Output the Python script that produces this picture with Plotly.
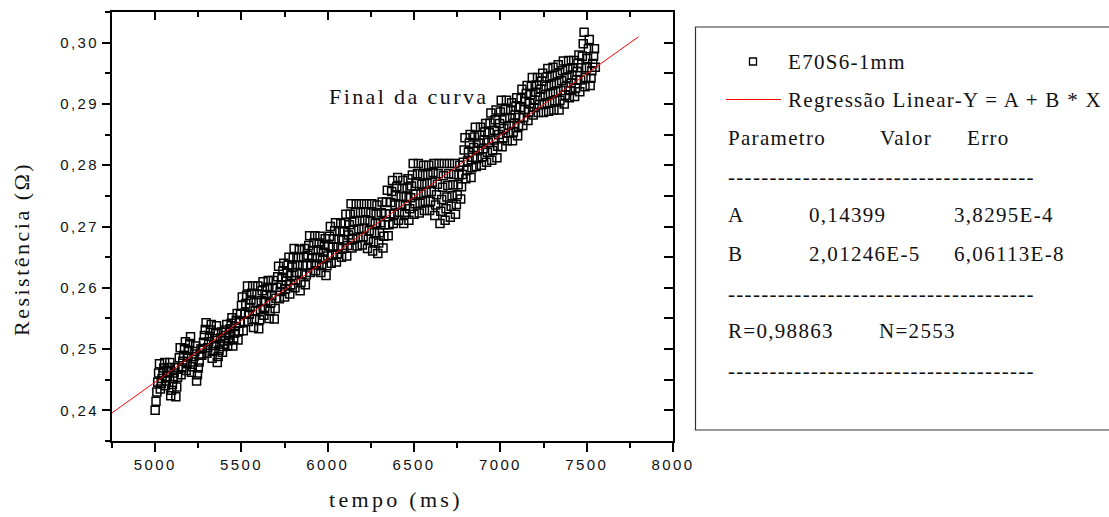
import plotly.graph_objects as go

# ---------------- data ----------------
tempo_ms = [
    5000, 5005, 5010, 5015, 5020, 5025, 5030, 5035, 5040, 5045, 5050, 5055, 5060, 5065, 5070, 5075, 5080, 5085, 5090, 5095,
    5100, 5105, 5110, 5115, 5120, 5125, 5130, 5135, 5140, 5145, 5150, 5155, 5160, 5165, 5170, 5175, 5180, 5185, 5190, 5195,
    5200, 5205, 5210, 5215, 5220, 5225, 5230, 5235, 5240, 5245, 5250, 5255, 5260, 5265, 5270, 5275, 5280, 5285, 5290, 5295,
    5300, 5305, 5310, 5315, 5320, 5325, 5330, 5335, 5340, 5345, 5350, 5355, 5360, 5365, 5370, 5375, 5380, 5385, 5390, 5395,
    5400, 5405, 5410, 5415, 5420, 5425, 5430, 5435, 5440, 5445, 5450, 5455, 5460, 5465, 5470, 5475, 5480, 5485, 5490, 5495,
    5500, 5505, 5510, 5515, 5520, 5525, 5530, 5535, 5540, 5545, 5550, 5555, 5560, 5565, 5570, 5575, 5580, 5585, 5590, 5595,
    5600, 5605, 5610, 5615, 5620, 5625, 5630, 5635, 5640, 5645, 5650, 5655, 5660, 5665, 5670, 5675, 5680, 5685, 5690, 5695,
    5700, 5705, 5710, 5715, 5720, 5725, 5730, 5735, 5740, 5745, 5750, 5755, 5760, 5765, 5770, 5775, 5780, 5785, 5790, 5795,
    5800, 5805, 5810, 5815, 5820, 5825, 5830, 5835, 5840, 5845, 5850, 5855, 5860, 5865, 5870, 5875, 5880, 5885, 5890, 5895,
    5900, 5905, 5910, 5915, 5920, 5925, 5930, 5935, 5940, 5945, 5950, 5955, 5960, 5965, 5970, 5975, 5980, 5985, 5990, 5995,
    6000, 6005, 6010, 6015, 6020, 6025, 6030, 6035, 6040, 6045, 6050, 6055, 6060, 6065, 6070, 6075, 6080, 6085, 6090, 6095,
    6100, 6105, 6110, 6115, 6120, 6125, 6130, 6135, 6140, 6145, 6150, 6155, 6160, 6165, 6170, 6175, 6180, 6185, 6190, 6195,
    6200, 6205, 6210, 6215, 6220, 6225, 6230, 6235, 6240, 6245, 6250, 6255, 6260, 6265, 6270, 6275, 6280, 6285, 6290, 6295,
    6300, 6305, 6310, 6315, 6320, 6325, 6330, 6335, 6340, 6345, 6350, 6355, 6360, 6365, 6370, 6375, 6380, 6385, 6390, 6395,
    6400, 6405, 6410, 6415, 6420, 6425, 6430, 6435, 6440, 6445, 6450, 6455, 6460, 6465, 6470, 6475, 6480, 6485, 6490, 6495,
    6500, 6505, 6510, 6515, 6520, 6525, 6530, 6535, 6540, 6545, 6550, 6555, 6560, 6565, 6570, 6575, 6580, 6585, 6590, 6595,
    6600, 6605, 6610, 6615, 6620, 6625, 6630, 6635, 6640, 6645, 6650, 6655, 6660, 6665, 6670, 6675, 6680, 6685, 6690, 6695,
    6700, 6705, 6710, 6715, 6720, 6725, 6730, 6735, 6740, 6745, 6750, 6755, 6760, 6765, 6770, 6775, 6780, 6785, 6790, 6795,
    6800, 6805, 6810, 6815, 6820, 6825, 6830, 6835, 6840, 6845, 6850, 6855, 6860, 6865, 6870, 6875, 6880, 6885, 6890, 6895,
    6900, 6905, 6910, 6915, 6920, 6925, 6930, 6935, 6940, 6945, 6950, 6955, 6960, 6965, 6970, 6975, 6980, 6985, 6990, 6995,
    7000, 7005, 7010, 7015, 7020, 7025, 7030, 7035, 7040, 7045, 7050, 7055, 7060, 7065, 7070, 7075, 7080, 7085, 7090, 7095,
    7100, 7105, 7110, 7115, 7120, 7125, 7130, 7135, 7140, 7145, 7150, 7155, 7160, 7165, 7170, 7175, 7180, 7185, 7190, 7195,
    7200, 7205, 7210, 7215, 7220, 7225, 7230, 7235, 7240, 7245, 7250, 7255, 7260, 7265, 7270, 7275, 7280, 7285, 7290, 7295,
    7300, 7305, 7310, 7315, 7320, 7325, 7330, 7335, 7340, 7345, 7350, 7355, 7360, 7365, 7370, 7375, 7380, 7385, 7390, 7395,
    7400, 7405, 7410, 7415, 7420, 7425, 7430, 7435, 7440, 7445, 7450, 7455, 7460, 7465, 7470, 7475, 7480, 7485, 7490, 7495,
    7500, 7505, 7510, 7515, 7520, 7525, 7530, 7535, 7540, 7545, 7550,
]

resistencia = [
    .2400, .2415, .2430, .2446, .2461, .2476, .2435, .2444, .2452, .2461, .2469, .2478,
    .2440, .2448, .2455, .2463, .2470, .2478, .2424, .2433, .2442, .2452, .2461, .2470,
    .2422, .2438, .2454, .2470, .2486, .2502, .2458, .2469, .2480, .2490, .2501, .2512,
    .2465, .2476, .2487, .2498, .2509, .2520, .2462, .2471, .2479, .2488, .2496, .2505,
    .2448, .2458, .2469, .2479, .2490, .2500, .2490, .2501, .2511, .2522, .2532, .2543,
    .2493, .2502, .2512, .2521, .2531, .2540, .2485, .2496, .2506, .2517, .2527, .2538,
    .2478, .2488, .2498, .2508, .2518, .2528, .2495, .2504, .2513, .2522, .2531, .2540,
    .2505, .2514, .2523, .2533, .2542, .2551, .2505, .2516, .2526, .2537, .2547, .2558,
    .2515, .2529, .2543, .2557, .2571, .2585, .2530, .2545, .2559, .2574, .2588, .2603,
    .2545, .2557, .2568, .2580, .2591, .2603, .2535, .2549, .2562, .2576, .2589, .2603,
    .2533, .2548, .2564, .2579, .2595, .2610, .2555, .2566, .2578, .2589, .2601, .2612,
    .2550, .2562, .2575, .2587, .2600, .2612, .2549, .2566, .2583, .2601, .2618, .2635,
    .2582, .2594, .2605, .2617, .2628, .2640, .2585, .2598, .2611, .2624, .2637, .2650,
    .2590, .2605, .2620, .2634, .2649, .2664, .2600, .2612, .2625, .2637, .2650, .2662,
    .2595, .2609, .2623, .2636, .2650, .2664, .2605, .2621, .2637, .2653, .2669, .2685,
    .2625, .2637, .2649, .2661, .2673, .2685, .2628, .2639, .2650, .2662, .2673, .2684,
    .2625, .2636, .2647, .2658, .2669, .2680, .2620, .2636, .2652, .2668, .2684, .2700,
    .2640, .2653, .2666, .2680, .2693, .2706, .2642, .2655, .2667, .2680, .2692, .2705,
    .2650, .2664, .2678, .2692, .2706, .2720, .2652, .2669, .2686, .2703, .2720, .2737,
    .2665, .2679, .2694, .2708, .2723, .2737, .2668, .2682, .2696, .2709, .2723, .2737,
    .2670, .2683, .2697, .2710, .2724, .2737, .2664, .2679, .2693, .2708, .2722, .2737,
    .2660, .2675, .2690, .2705, .2720, .2735, .2656, .2673, .2690, .2706, .2723, .2740,
    .2665, .2684, .2703, .2721, .2740, .2759, .2685, .2703, .2721, .2739, .2757, .2775,
    .2705, .2720, .2735, .2750, .2765, .2780, .2710, .2723, .2736, .2749, .2762, .2775,
    .2705, .2720, .2734, .2749, .2763, .2778, .2710, .2729, .2747, .2766, .2784, .2803,
    .2720, .2737, .2753, .2770, .2786, .2803, .2722, .2738, .2753, .2769, .2784, .2800,
    .2726, .2741, .2756, .2770, .2785, .2800, .2726, .2741, .2757, .2772, .2788, .2803,
    .2718, .2735, .2752, .2769, .2786, .2803, .2705, .2725, .2744, .2764, .2783, .2803,
    .2710, .2729, .2748, .2767, .2786, .2803, .2715, .2733, .2750, .2768, .2785, .2803,
    .2720, .2736, .2752, .2768, .2784, .2800, .2745, .2765, .2785, .2805, .2825, .2845,
    .2778, .2792, .2807, .2821, .2836, .2850, .2780, .2796, .2813, .2829, .2846, .2862,
    .2798, .2811, .2824, .2836, .2849, .2862, .2800, .2814, .2827, .2841, .2854, .2868,
    .2805, .2821, .2837, .2853, .2869, .2885, .2808, .2824, .2841, .2857, .2874, .2890,
    .2812, .2831, .2850, .2868, .2887, .2906, .2830, .2845, .2860, .2876, .2891, .2906,
    .2840, .2852, .2865, .2877, .2890, .2902, .2840, .2854, .2868, .2882, .2896, .2910,
    .2848, .2863, .2878, .2894, .2909, .2924, .2865, .2878, .2891, .2904, .2917, .2930,
    .2873, .2887, .2901, .2915, .2929, .2943, .2882, .2894, .2906, .2919, .2931, .2943,
    .2886, .2899, .2912, .2924, .2937, .2950, .2886, .2900, .2915, .2929, .2944, .2958,
    .2888, .2902, .2917, .2931, .2946, .2960, .2890, .2905, .2920, .2934, .2949, .2964,
    .2890, .2906, .2922, .2938, .2954, .2970, .2900, .2914, .2928, .2943, .2957, .2971,
    .2910, .2922, .2934, .2947, .2959, .2971, .2912, .2926, .2939, .2953, .2966, .2980,
    .2920, .2939, .2959, .2978, .2998, .3017, .2928, .2943, .2959, .2974, .2990, .3005,
    .2930, .2942, .2954, .2966, .2978, .2990, .2960,
]

# linear regression parameters (from the figure's table)
fit_A = 0.14399
fit_B = 2.01246e-5
fit_x = [4750, 7800]

# axis ticks
x_ticks = [5000, 5500, 6000, 6500, 7000, 7500, 8000]
x_ticktext = ["5000", "5500", "6000", "6500", "7000", "7500", "8000"]
y_ticks = [0.24, 0.25, 0.26, 0.27, 0.28, 0.29, 0.30]
y_ticktext = ["0,24", "0,25", "0,26", "0,27", "0,28", "0,29", "0,30"]

# legend / fit table text
series_name = "E70S6-1mm"
fit_name = "Regressão Linear-Y = A + B * X"
table_header = ["Parametro", "Valor", "Erro"]
table_rows = [["A", "0,14399", "3,8295E-4"],
              ["B", "2,01246E-5", "6,06113E-8"]]
stats_row = ["R=0,98863", "N=2553"]

# ---------------- layout geometry ----------------
W, H = 1109, 517
ML, MR, MT, MB = 112, 436, 12, 76
PW = W - ML - MR
PH = H - MT - MB


def xp(px):
    return (px - ML) / PW


def yp(py):
    return (H - MB - py) / PH


def sp(text, s):
    return f"<span style='letter-spacing:{s}px'>{text}</span>"


fit_y = [fit_A + fit_B * v for v in fit_x]

fig = go.Figure()
fig.add_trace(go.Scatter(
    x=tempo_ms, y=resistencia, mode="markers",
    marker=dict(symbol="square-open", size=8, color="black",
                line=dict(width=1.5, color="black")),
    showlegend=False, hoverinfo="skip",
))
fig.add_trace(go.Scatter(
    x=fit_x, y=fit_y, mode="lines",
    line=dict(color="#ff0000", width=1),
    showlegend=False, hoverinfo="skip",
))
# empty trace to activate mirrored (top/right) axes
fig.add_trace(go.Scatter(x=[], y=[], xaxis="x2", yaxis="y2",
                         showlegend=False, hoverinfo="skip"))

tickfont = dict(family="Liberation Sans, Arial, sans-serif", size=15, color="#111")
sans_sp = 2.4

xr = [4750, 8000]
yr = [0.235, 0.305]

fig.update_layout(
    width=W, height=H,
    margin=dict(l=ML, r=MR, t=MT, b=MB, pad=0),
    paper_bgcolor="white", plot_bgcolor="white",
    showlegend=False,
    xaxis=dict(
        range=xr, showgrid=False, zeroline=False,
        showline=True, linecolor="black", linewidth=2,
        tickmode="array", tickvals=x_ticks,
        ticktext=[sp(t, sans_sp) for t in x_ticktext],
        ticks="outside", ticklen=9, tickwidth=1.5, tickcolor="black",
        tickfont=tickfont,
        minor=dict(dtick=250, tick0=4750, ticks="outside", ticklen=5,
                   tickwidth=1.5, tickcolor="black", showgrid=False),
    ),
    yaxis=dict(
        range=yr, showgrid=False, zeroline=False,
        showline=True, linecolor="black", linewidth=2,
        tickmode="array", tickvals=y_ticks,
        ticktext=[sp(t, sans_sp) for t in y_ticktext],
        ticks="outside", ticklen=8, tickwidth=1.5, tickcolor="black",
        tickfont=tickfont,
        minor=dict(dtick=0.005, tick0=0.235, ticks="outside", ticklen=5,
                   tickwidth=1.5, tickcolor="black", showgrid=False),
    ),
    xaxis2=dict(
        range=xr, overlaying="x", side="top", anchor="y",
        showgrid=False, zeroline=False, showticklabels=False,
        showline=True, linecolor="black", linewidth=2,
        tickmode="array", tickvals=x_ticks,
        ticks="inside", ticklen=8, tickwidth=1.5, tickcolor="black",
        minor=dict(dtick=250, tick0=4750, ticks="inside", ticklen=5,
                   tickwidth=1.5, tickcolor="black", showgrid=False),
    ),
    yaxis2=dict(
        range=yr, overlaying="y", side="right", anchor="x",
        showgrid=False, zeroline=False, showticklabels=False,
        showline=True, linecolor="black", linewidth=2,
        tickmode="array", tickvals=y_ticks,
        ticks="inside", ticklen=9, tickwidth=1.5, tickcolor="black",
        minor=dict(dtick=0.005, tick0=0.235, ticks="inside", ticklen=9,
                   tickwidth=1.5, tickcolor="black", showgrid=False),
    ),
)

serif = "Liberation Serif, Times New Roman, serif"
annotations = []

# axis titles
annotations.append(dict(
    text=sp("tempo (ms)", 3.3), x=xp(396), y=yp(499), xref="paper", yref="paper",
    xanchor="center", yanchor="middle", showarrow=False,
    font=dict(family=serif, size=22, color="#111")))
annotations.append(dict(
    text=sp("Resistência (Ω)", 2.5), x=xp(21), y=yp(249), xref="paper", yref="paper",
    xanchor="center", yanchor="middle", showarrow=False, textangle=-90,
    font=dict(family=serif, size=22, color="#111")))

# in-plot label
annotations.append(dict(
    text=sp("Final da curva", 2.4), x=xp(327), y=yp(97), xref="paper", yref="paper",
    xanchor="left", yanchor="middle", showarrow=False,
    font=dict(family=serif, size=22, color="#111")))

# legend / table text
lg_font = dict(family=serif, size=21, color="#111")
lsp = 1.3


def lg(text, px, py):
    annotations.append(dict(
        text=sp(text, lsp), x=xp(px), y=yp(py), xref="paper", yref="paper",
        xanchor="left", yanchor="middle", showarrow=False, font=lg_font))


dashes = "-" * 37
lg(series_name, 786, 62)
lg(fit_name, 786, 100)
lg(table_header[0], 726, 138)
lg(table_header[1], 878, 138)
lg(table_header[2], 965, 138)
lg(dashes, 726, 177)
row_y = [215, 254]
for r, yy in zip(table_rows, row_y):
    lg(r[0], 726, yy)
    lg(r[1], 807, yy)
    lg(r[2], 952, yy)
lg(dashes, 726, 294)
lg(stats_row[0], 726, 331)
lg(stats_row[1], 877, 331)
lg(dashes, 726, 371)

fig.update_layout(annotations=annotations)

# legend box and symbols
shapes = [
    dict(type="rect", xref="paper", yref="paper",
         x0=xp(695.5), x1=xp(1115), y0=yp(430), y1=yp(27),
         line=dict(color="#333", width=1.2), fillcolor="rgba(0,0,0,0)"),
    dict(type="rect", xref="paper", yref="paper",
         x0=xp(749.5), x1=xp(756.5), y0=yp(65), y1=yp(58),
         line=dict(color="black", width=1.3), fillcolor="white"),
    dict(type="line", xref="paper", yref="paper",
         x0=xp(726), x1=xp(781), y0=yp(99.5), y1=yp(99.5),
         line=dict(color="#ff0000", width=1)),
]
fig.update_layout(shapes=shapes)

fig.write_html("out.html")
